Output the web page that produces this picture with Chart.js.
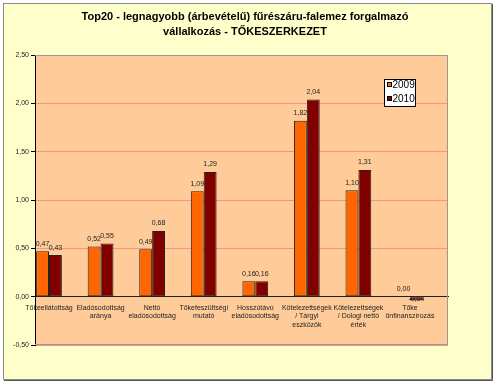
<!DOCTYPE html>
<html>
<head>
<meta charset="utf-8">
<script src="https://cdn.jsdelivr.net/npm/chart.js@4"></script>
<style>
  html, body { margin: 0; padding: 0; background: #fff; }
</style>
</head>
<body>
<canvas id="tokeChart" width="495" height="384"></canvas>
<script>
// data
var categories = [
    ['Tőkeellátottság'],
    ['Eladósodottság', 'aránya'],
    ['Nettó', 'eladósodottság'],
    ['Tőkefeszültségi', 'mutató'],
    ['Hosszútávú', 'eladósodottság'],
    ['Kötelezettségek', '/ Tárgyi', 'eszközök'],
    ['Kötelezettségek', '/ Dologi nettó', 'érték'],
    ['Tőke', 'önfinanszírozás']
];
var seriesNames = ['2009', '2010'];
var values2009 = [0.47, 0.52, 0.49, 1.09, 0.16, 1.82, 1.10, 0.00];
var values2010 = [0.43, 0.55, 0.68, 1.29, 0.16, 2.04, 1.31, -0.04];
var yTicks = [-0.5, 0, 0.5, 1.0, 1.5, 2.0, 2.5];
var titleLines = [
    'Top20 - legnagyobb (árbevételű) fűrészáru-falemez forgalmazó',
    'vállalkozás - TŐKESZERKEZET'
];

var barColors = ['#FF6600', '#800000'];

function fmt(v) {
    return v.toFixed(2).replace('.', ',').replace('-0,00', '0,00');
}

// frame, plot background, title, legend and value labels
var excelLook = {
    id: 'excelLook',
    beforeDraw: function (chart) {
        var ctx = chart.ctx;
        var a = chart.chartArea;
        ctx.save();
        ctx.fillStyle = '#ffffff';
        ctx.fillRect(0, 0, chart.width, chart.height);
        ctx.fillStyle = '#FFFFCC';
        ctx.fillRect(3.5, 3.5, 488, 376);
        ctx.strokeStyle = '#8a8a8a';
        ctx.lineWidth = 1;
        ctx.strokeRect(3.5, 3.5, 488, 376);
        ctx.strokeStyle = '#555';
        ctx.beginPath();
        ctx.moveTo(4, 380.5); ctx.lineTo(492.5, 380.5); ctx.lineTo(492.5, 4);
        ctx.stroke();
        ctx.fillStyle = '#FFCC99';
        ctx.fillRect(a.left, a.top, a.right - a.left, a.bottom - a.top);

        ctx.fillStyle = '#000';
        ctx.font = 'bold 11px "Liberation Sans", Arial, sans-serif';
        ctx.textAlign = 'center';
        ctx.textBaseline = 'middle';
        ctx.fillText(titleLines[0], 245, 17);
        ctx.fillText(titleLines[1], 245, 32);
        ctx.restore();
    },
    beforeDatasetsDraw: function (chart) {
        var ctx = chart.ctx;
        var a = chart.chartArea;
        ctx.save();
        ctx.strokeStyle = '#9a9a9a';
        ctx.lineWidth = 1;
        ctx.beginPath();
        ctx.moveTo(a.left, a.top + 0.5);
        ctx.lineTo(a.right - 0.5, a.top + 0.5);
        ctx.lineTo(a.right - 0.5, a.bottom - 0.5);
        ctx.lineTo(a.left, a.bottom - 0.5);
        ctx.stroke();
        ctx.restore();
    },
    afterDatasetsDraw: function (chart) {
        var ctx = chart.ctx;
        ctx.save();
        ctx.font = '7px "Liberation Sans", Arial, sans-serif';
        ctx.fillStyle = '#222';
        ctx.textAlign = 'center';
        chart.data.datasets.forEach(function (ds, di) {
            var meta = chart.getDatasetMeta(di);
            meta.data.forEach(function (bar, i) {
                var v = ds.data[i];
                if (v < 0) {
                    ctx.textBaseline = 'middle';
                    ctx.fillText(fmt(v), bar.x, bar.base + 2);
                } else {
                    ctx.textBaseline = 'bottom';
                    ctx.fillText(fmt(v), bar.x, bar.y - 4);
                }
            });
        });

        // legend box
        ctx.fillStyle = '#ffffff';
        ctx.fillRect(384.5, 79.5, 31, 27);
        ctx.strokeStyle = '#000';
        ctx.strokeRect(384.5, 79.5, 31, 27);
        ctx.font = '10px "Liberation Sans", Arial, sans-serif';
        ctx.textAlign = 'left';
        ctx.textBaseline = 'middle';
        seriesNames.forEach(function (name, i) {
            var y = 85 + i * 14;
            ctx.fillStyle = barColors[i];
            ctx.fillRect(387.5, y - 2.5, 4, 4);
            ctx.strokeStyle = '#000';
            ctx.strokeRect(387.5, y - 2.5, 4, 4);
            ctx.fillStyle = '#000';
            ctx.fillText(name, 392.5, y);
        });
        ctx.restore();
    }
};

var config = {
    type: 'bar',
    data: {
        labels: categories,
        datasets: [
            { label: seriesNames[0], data: values2009, backgroundColor: barColors[0] },
            { label: seriesNames[1], data: values2010, backgroundColor: barColors[1] }
        ]
    },
    options: {
        responsive: false,
        animation: false,
        layout: { padding: { top: 55, left: 4, right: 47, bottom: 39 } },
        datasets: {
            bar: {
                borderColor: '#222',
                borderWidth: 1,
                borderSkipped: false,
                barPercentage: 1,
                categoryPercentage: 0.5
            }
        },
        plugins: {
            legend: { display: false },
            title: { display: false },
            tooltip: { enabled: false }
        },
        scales: {
            x: {
                type: 'category',
                position: { y: 0 },
                offset: true,
                grid: { display: false, drawTicks: false },
                border: { display: true, color: '#222', width: 1 },
                ticks: {
                    font: { size: 7, family: '"Liberation Sans", Arial, sans-serif' },
                    color: '#222',
                    padding: 7,
                    maxRotation: 0,
                    autoSkip: false
                },
                // the category slots in the original sit a bit left of the plot area
                afterBuildTicks: function (scale) {
                    scale._startValue = -0.2715;
                    scale._valueRange = 8.009;
                }
            },
            y: {
                min: yTicks[0],
                max: yTicks[yTicks.length - 1],
                afterFit: function (scale) { scale.width = 31; },
                grid: {
                    color: '#F29680',
                    tickColor: '#000',
                    tickLength: 4,
                    lineWidth: 1
                },
                border: { display: true, color: '#000', width: 1 },
                ticks: {
                    stepSize: yTicks[1] - yTicks[0],
                    padding: 2,
                    color: '#222',
                    font: { size: 7, family: '"Liberation Sans", Arial, sans-serif' },
                    callback: function (v) { return fmt(v); }
                }
            }
        }
    },
    plugins: [excelLook]
};

var tokeChart = new Chart(document.getElementById('tokeChart'), config);
</script>
</body>
</html>
